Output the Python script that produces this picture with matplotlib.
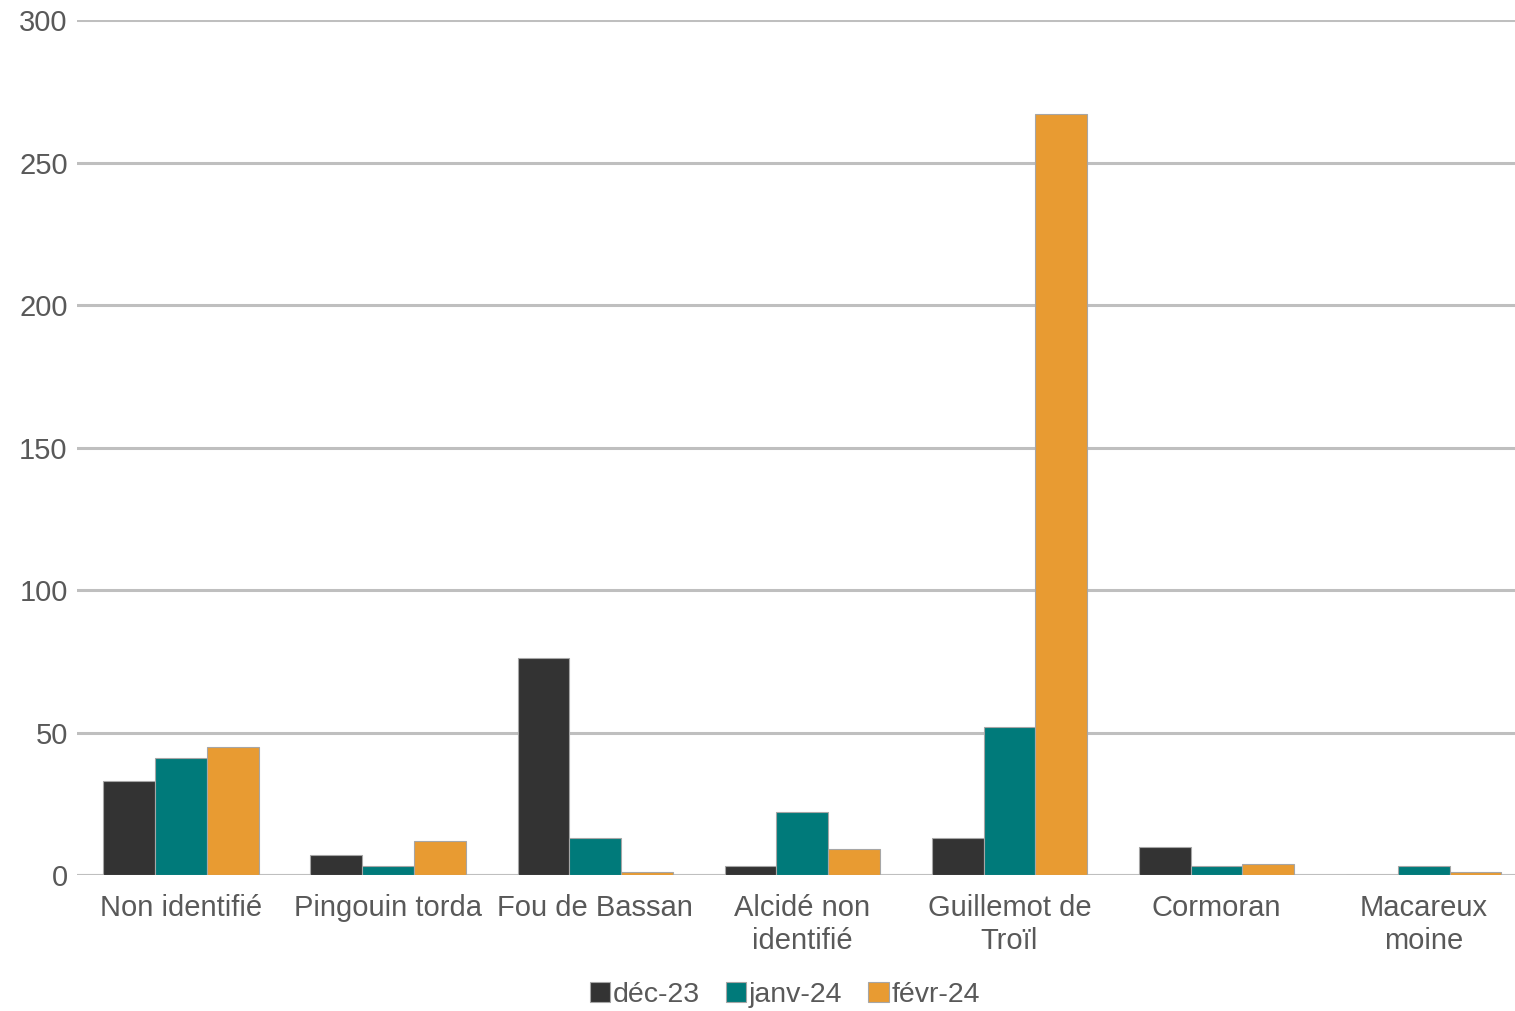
import matplotlib
matplotlib.use("Agg")
import matplotlib.pyplot as plt
import numpy as np

categories = ["Non identifié", "Pingouin torda", "Fou de Bassan", "Alcidé non\nidentifié",
              "Guillemot de\nTroïl", "Cormoran", "Macareux\nmoine"]
series_names = ["déc-23", "janv-24", "févr-24"]
dec23 = [33, 7, 76, 3, 13, 10, 0]
janv24 = [41, 3, 13, 22, 52, 3, 3]
fevr24 = [45, 12, 1, 9, 267, 4, 1]
yticks = [0, 50, 100, 150, 200, 250, 300]
colors = ["#333333", "#007a7a", "#e89b32"]

plt.rcParams['font.family'] = ['Liberation Sans', 'DejaVu Sans']

fig = plt.figure(figsize=(15.15, 10.11), dpi=100)
ax = fig.add_axes([0.0511, 0.1345, 0.957, 0.8455])

x = np.arange(len(categories))
w = 0.25
for i, (vals, c, n) in enumerate(zip([dec23, janv24, fevr24], colors, series_names)):
    ax.bar(x + (i - 1) * w, vals, width=w, color=c, edgecolor="#a6a6a6",
           linewidth=0.8, label=n, zorder=3)

ax.set_xlim(-0.5, len(categories) - 0.5)
ax.set_ylim(0, 300)
ax.set_yticks(yticks)
ax.set_yticklabels([str(t) for t in yticks])
ax.yaxis.grid(True, color="#bfbfbf", linewidth=2.2, zorder=0)
ax.set_axisbelow(True)
for s in ax.spines.values():
    s.set_visible(False)
ax.axhline(0, color="#bfbfbf", linewidth=2.2, zorder=2)
ax.set_xticks(x)
ax.set_xticklabels(categories, fontsize=21, color="#595959", linespacing=1.22)
ax.tick_params(axis="x", length=0, pad=14)
ax.tick_params(axis="y", length=0, pad=7, labelsize=21, labelcolor="#595959")

leg = fig.legend(loc="center", bbox_to_anchor=(0.518, 1 - 995 / 1011), ncol=3, frameon=False,
                 fontsize=20.5, handlelength=0.72, handleheight=0.72, handletextpad=0.1,
                 columnspacing=0.9)
for t in leg.get_texts():
    t.set_color("#595959")

fig.savefig("out.png", dpi=100)
